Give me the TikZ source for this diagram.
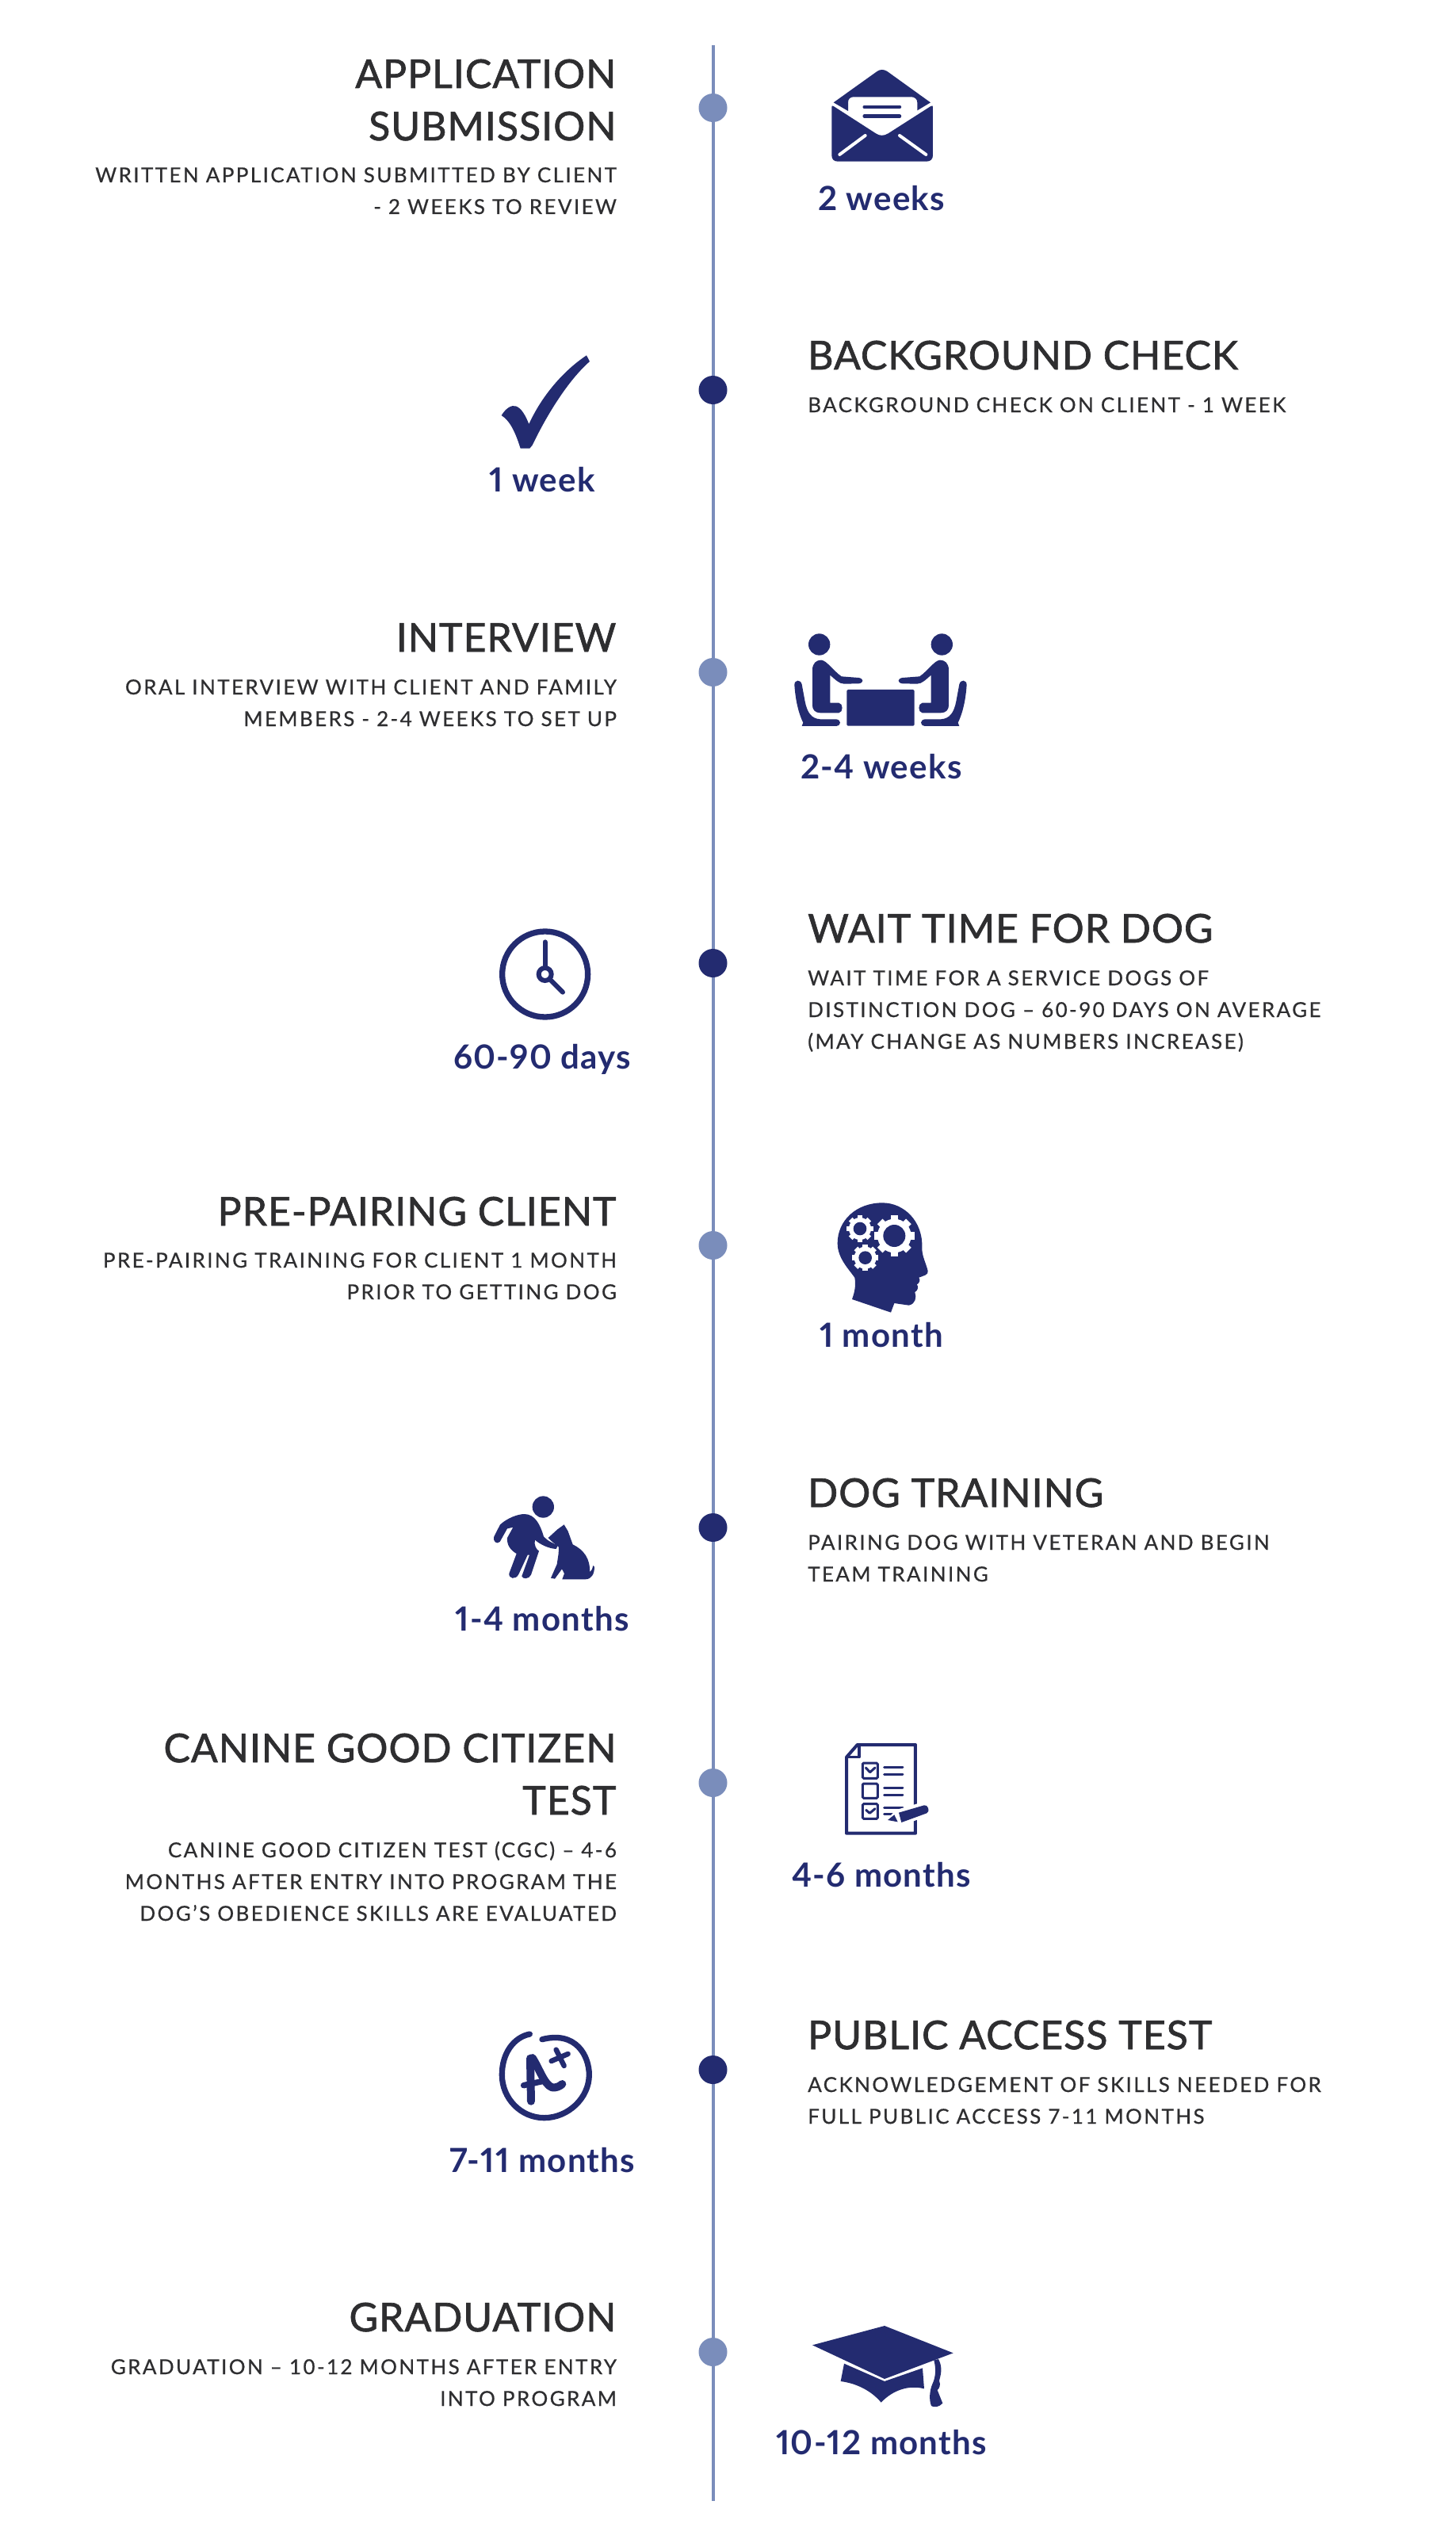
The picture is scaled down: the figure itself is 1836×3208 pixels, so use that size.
\documentclass[tikz,border=0pt]{standalone}
\usepackage{fontspec}
\setmainfont{Lato}
\newfontfamily\headfont[LetterSpace=2,FakeBold=1.4]{Lato}
\newfontfamily\bodyfont[LetterSpace=9.2,FakeBold=0.6]{Lato}
\newfontfamily\durfont[LetterSpace=3,Numbers=Proportional]{Lato Bold}
\definecolor{navy}{HTML}{232B70}
\definecolor{steel}{HTML}{7A8DBB}
\definecolor{ink}{HTML}{2E2E30}
\tikzset{
  head/.style={font=\headfont\fontsize{50}{60}\selectfont,text=ink,inner sep=0pt},
  bodyt/.style={font=\bodyfont\fontsize{26}{40}\selectfont,text=ink,inner sep=0pt},
  dur/.style={font=\durfont\fontsize{42}{50}\selectfont,text=navy,inner sep=0pt,anchor=base},
  dotA/.style={circle,fill=steel,minimum size=36pt,inner sep=0pt},
  dotB/.style={circle,fill=navy,minimum size=36pt,inner sep=0pt},
  ico/.style={x=0.3333pt,y=-0.3333pt},
  st/.style={draw=navy,line cap=round,line join=round,fill=none},
  wst/.style={draw=white,line cap=round,line join=round,fill=none}
}
\newcommand{\headL}[3]{\node[head,anchor=base east] (#1) at (777.5,#2) {#3};}
\newcommand{\headR}[3]{\node[head,anchor=base west] (#1) at (1019,#2) {#3};}
\newcommand{\bodyL}[3]{\node[bodyt,anchor=base east] (#1) at (778,#2) {#3};}
\newcommand{\bodyR}[3]{\node[bodyt,anchor=base west] (#1) at (1019,#2) {#3};}
\newcommand{\gearicon}[5]{%
  \foreach \a in {0,45,...,315}{\fill[white,rotate around={\a:(#1,#2)}] (#1-#5,#2) rectangle (#1+#5,#2-#3);}
  \fill[white] (#1,#2) circle (#4);}
\newcommand{\sitter}{%
  \fill[navy] (221,129) circle (41);
  \fill[navy] (195,225) .. controls (195,200) and (210,188) .. (228,188) .. controls (250,190) and (270,225) .. (305,250) -- (370,255) .. controls (390,258) and (390,275) .. (370,277) -- (315,278) .. controls (295,278) and (280,260) .. (262,245) -- (262,350) -- (295,350) .. controls (312,352) and (312,386) .. (295,388) -- (225,388) .. controls (205,388) and (195,375) .. (195,360) -- cycle;
  \fill[navy] (127,282) .. controls (127,262) and (150,260) .. (155,280) -- (167,345) .. controls (175,385) and (190,410) .. (225,412) -- (285,412) .. controls (305,415) and (305,435) .. (285,438) -- (155,438) -- (160,425) .. controls (140,385) and (130,330) .. (127,282) -- cycle;
}
\begin{document}
\begin{tikzpicture}[x=1pt,y=-1pt]
\useasboundingbox[fill=white] (0,0) rectangle (1836,3208);
% axis
\coordinate (axtop) at (899.5,57);
\coordinate (axbot) at (899.5,3155);
\draw[steel,line width=4pt] (axtop) -- (axbot);
\node[dotA] (d1) at (899.5,136) {};
\node[dotB] (d2) at (899.5,492) {};
\node[dotA] (d3) at (899.5,848) {};
\node[dotB] (d4) at (899.5,1215) {};
\node[dotA] (d5) at (899.5,1571) {};
\node[dotB] (d6) at (899.5,1927) {};
\node[dotA] (d7) at (899.5,2249) {};
\node[dotB] (d8) at (899.5,2611) {};
\node[dotA] (d9) at (899.5,2967) {};
% texts
\headL{h1a}{111}{APPLICATION}
\headL{h1b}{177}{SUBMISSION}
\bodyL{b1a}{230}{WRITTEN APPLICATION SUBMITTED BY CLIENT}
\bodyL{b1b}{270}{- 2 WEEKS TO REVIEW}
\headR{h2}{466}{BACKGROUND CHECK}
\bodyR{b2}{520}{BACKGROUND CHECK ON CLIENT - 1 WEEK}
\headL{h3}{822}{INTERVIEW}
\bodyL{b3a}{876}{ORAL INTERVIEW WITH CLIENT AND FAMILY}
\bodyL{b3b}{916}{MEMBERS - 2-4 WEEKS TO SET UP}
\headR{h4}{1189}{WAIT TIME FOR DOG}
\bodyR{b4a}{1243}{WAIT TIME FOR A SERVICE DOGS OF}
\bodyR{b4b}{1283}{DISTINCTION DOG – 60-90 DAYS ON AVERAGE}
\bodyR{b4c}{1323}{(MAY CHANGE AS NUMBERS INCREASE)}
\headL{h5}{1546}{PRE-PAIRING CLIENT}
\bodyL{b5a}{1599}{PRE-PAIRING TRAINING FOR CLIENT 1 MONTH}
\bodyL{b5b}{1639}{PRIOR TO GETTING DOG}
\headR{h6}{1901}{DOG TRAINING}
\bodyR{b6a}{1955}{PAIRING DOG WITH VETERAN AND BEGIN}
\bodyR{b6b}{1995}{TEAM TRAINING}
\headL{h7a}{2223}{CANINE GOOD CITIZEN}
\headL{h7b}{2289}{TEST}
\bodyL{b7a}{2343}{CANINE GOOD CITIZEN TEST (CGC) – 4-6}
\bodyL{b7b}{2383}{MONTHS AFTER ENTRY INTO PROGRAM THE}
\bodyL{b7c}{2423}{DOG’S OBEDIENCE SKILLS ARE EVALUATED}
\headR{h8}{2585}{PUBLIC ACCESS TEST}
\bodyR{b8a}{2639}{ACKNOWLEDGEMENT OF SKILLS NEEDED FOR}
\bodyR{b8b}{2679}{FULL PUBLIC ACCESS 7-11 MONTHS}
\headL{h9}{2941}{GRADUATION}
\bodyL{b9a}{2995}{GRADUATION – 10-12 MONTHS AFTER ENTRY}
\bodyL{b9b}{3035}{INTO PROGRAM}
% durations
\node[dur] (t1) at (1112,266) {2 weeks};
\node[dur] (t2) at (684,620) {1 week};
\node[dur] (t3) at (1112,982) {2-4 weeks};
\node[dur] (t4) at (684,1348) {60-90 days};
\node[dur] (t5) at (1112,1699) {1 month};
\node[dur] (t6) at (684,2057) {1-4 months};
\node[dur] (t7) at (1112,2380) {4-6 months};
\node[dur] (t8) at (684,2740) {7-11 months};
\node[dur] (t9) at (1112,3096) {10-12 months};
% envelope
\begin{scope}[shift={(960,40)},ico]
\fill[navy] (275,268) -- (440,150) .. controls (452,142) and (465,142) .. (478,150) -- (642,268) -- (592,298) -- (592,268) .. controls (592,255) and (582,247) .. (570,247) -- (350,247) .. controls (338,247) and (330,255) .. (330,268) -- (330,300) -- cycle;
\fill[navy] (268,285) .. controls (268,280) and (270,279) .. (275,282) -- (435,385) .. controls (450,395) and (466,395) .. (482,385) -- (643,282) .. controls (648,279) and (651,280) .. (651,285) -- (651,468) .. controls (651,482) and (642,491) .. (628,491) -- (290,491) .. controls (276,491) and (268,482) .. (268,468) -- cycle;
\draw[wst,line width=4pt] (298,465) -- (395,393);
\draw[wst,line width=4pt] (625,465) -- (525,393);
\draw[st,line width=4.5pt] (392,285) -- (525,285);
\draw[st,line width=4.5pt] (392,320) -- (525,320);
\end{scope}
% check
\begin{scope}[shift={(560,400)},ico]
\fill[navy] (218,372) .. controls (235,345) and (255,332) .. (272,337) .. controls (295,345) and (310,375) .. (322,405) .. controls (370,300) and (450,205) .. (540,145) -- (552,168) .. controls (470,240) and (390,370) .. (335,485) -- (325,497) -- (290,497) .. controls (275,450) and (255,395) .. (218,372) -- cycle;
\end{scope}
% interview
\begin{scope}[shift={(960,770)},ico]
\sitter
\begin{scope}[shift={(906,0)},xscale=-1]\sitter\end{scope}
\fill[navy,rounded corners=1.5pt] (325,300) rectangle (581,437);
\end{scope}
% clock
\begin{scope}[shift={(540,1140)},ico]
\draw[navy,line width=7.3pt] (443,267) circle (162);
\draw[st,line width=6pt] (443,145) -- (443,240);
\draw[st,line width=6pt] (465,290) -- (510,335);
\draw[navy,line width=6pt] (443,267) circle (24);
\end{scope}
% head
\begin{scope}[shift={(1000,1490)},ico]
\fill[navy] (225,447) -- (372,497) -- (385,462) -- (440,470) .. controls (465,465) and (470,440) .. (463,420) .. controls (475,415) and (478,395) .. (470,392) .. controls (480,385) and (485,375) .. (478,365) .. controls (495,358) and (515,355) .. (512,340) .. controls (505,310) and (490,285) .. (490,255) .. controls (495,150) and (420,82) .. (340,82) .. controls (240,82) and (170,150) .. (170,235) .. controls (170,290) and (210,330) .. (235,365) .. controls (240,395) and (235,420) .. (225,447) -- cycle;
\gearicon{385}{207}{77}{64}{14}
\gearicon{255}{180}{50}{42}{10}
\gearicon{275}{290}{50}{42}{10}
\fill[navy] (385,207) circle (42);
\fill[navy] (255,180) circle (25);
\fill[navy] (275,290) circle (25);
\end{scope}
% dog
\begin{scope}[shift={(560,1860)},ico]
\fill[navy] (376,123) circle (41);
\fill[navy] (190,235) -- (213,190) .. controls (240,165) and (280,150) .. (305,150) .. controls (345,150) and (365,190) .. (378,235) .. controls (390,250) and (415,262) .. (432,268) -- (425,282) .. controls (395,280) and (365,265) .. (345,248) .. controls (340,265) and (350,285) .. (360,290) -- (330,380) .. controls (322,397) and (298,397) .. (295,385) -- (324,305) -- (317,305) -- (283,378) .. controls (272,400) and (245,395) .. (247,375) -- (275,300) .. controls (250,285) and (238,265) .. (240,240) -- (262,200) -- (240,205) -- (212,255) .. controls (200,265) and (185,255) .. (190,235) -- cycle;
\fill[navy] (395,240) -- (430,208) -- (455,190) -- (470,215) -- (488,265) .. controls (530,285) and (555,320) .. (552,370) .. controls (560,365) and (563,355) .. (565,345) -- (570,350) .. controls (570,375) and (560,397) .. (535,397) -- (448,397) -- (456,375) -- (447,358) -- (420,395) -- (405,392) -- (428,340) -- (434,300) -- (435,275) .. controls (420,262) and (405,252) .. (395,240) -- cycle;
\end{scope}
% checklist
\begin{scope}[shift={(980,2170)},ico]
\draw[navy,line width=4pt,line join=round] (264,140) -- (305,93) -- (525,93) -- (525,428) -- (264,428) -- cycle;
\draw[navy,line width=3.5pt,line join=round] (264,140) -- (312,140) -- (312,100);
\draw[navy,line width=3pt,rounded corners=1.5pt] (325,162) rectangle (382,220);
\draw[navy,line width=3pt,rounded corners=1.5pt] (325,240) rectangle (382,295);
\draw[navy,line width=3pt,rounded corners=1.5pt] (325,317) rectangle (382,373);
\draw[st,line width=3pt] (337,180) -- (353,197) -- (372,180);
\draw[st,line width=3pt] (338,340) -- (352,352) -- (372,335);
\foreach \yy in {178,205,255,282,330}{\draw[st,line width=3pt] (407,\yy) -- (477,\yy);}
\draw[st,line width=3pt] (407,355) -- (440,355);
\fill[white] (410,385) -- (450,340) -- (570,305) -- (590,355) -- (470,400) -- cycle;
\fill[navy] (420,378) -- (445,358) -- (458,385) -- cycle;
\fill[navy] (462,350) -- (558,322) .. controls (572,318) and (582,345) .. (568,352) -- (472,387) -- cycle;
\end{scope}
% A+
\begin{scope}[shift={(540,2530)},ico]
\draw[st,line width=7.3pt] (432,128) .. controls (560,95) and (610,190) .. (610,262) .. controls (610,350) and (530,425) .. (440,425) .. controls (350,425) and (280,350) .. (280,262) .. controls (280,180) and (325,120) .. (385,108);
\draw[st,line width=10pt] (390,362) -- (387,200);
\draw[st,line width=10pt] (395,198) .. controls (420,235) and (440,300) .. (470,310) .. controls (485,312) and (500,305) .. (508,297);
\draw[st,line width=7.5pt] (362,302) -- (445,284);
\draw[st,line width=6.5pt] (467,210) -- (530,183);
\draw[st,line width=6.5pt] (485,167) -- (515,228);
\end{scope}
% cap
\begin{scope}[shift={(960,2900)},ico]
\fill[navy] (195,175) -- (468,102) -- (728,205) -- (468,303) -- cycle;
\fill[navy] (315,245) -- (468,312) -- (612,262) -- (618,340) .. controls (560,325) and (500,345) .. (455,392) .. controls (420,350) and (365,320) .. (302,312) -- cycle;
\fill[navy] (655,232) -- (672,228) .. controls (690,260) and (680,290) .. (675,310) .. controls (682,325) and (675,340) .. (668,345) -- (688,395) .. controls (675,410) and (655,412) .. (645,405) .. controls (635,380) and (640,345) .. (648,325) .. controls (660,300) and (665,270) .. (655,232) -- cycle;
\end{scope}
\end{tikzpicture}
\end{document}
